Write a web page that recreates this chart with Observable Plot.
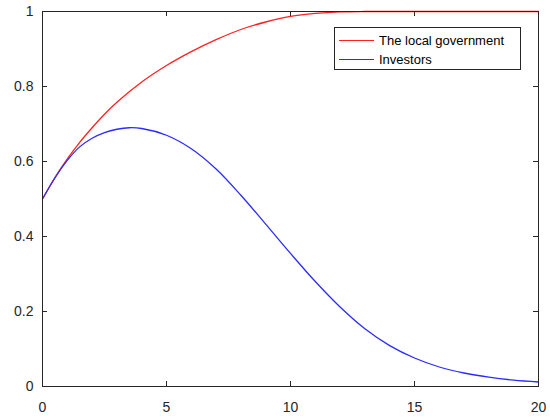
<!DOCTYPE html>
<html>
<head>
<meta charset="utf-8">
<script src="https://cdn.jsdelivr.net/npm/d3@7"></script>
<script src="https://cdn.jsdelivr.net/npm/@observablehq/plot@0.6"></script>
<style>
  body { margin: 0; background: #fff; }
  #wrap { position: relative; width: 550px; height: 419px; }
  #legend {
    position: absolute; left: 334px; top: 27px; width: 187px; height: 43px;
    border: 1px solid #262626; background: #fff; box-sizing: border-box;
    font-family: "Liberation Sans", Arial, sans-serif; font-size: 13px; color: #000;
  }
  .item { position: absolute; left: 4px; height: 16px; display: flex; align-items: center; }
  .swatch { width: 35px; height: 0; border-top: 1.3px solid; margin-right: 5px; }
</style>
</head>
<body>
<div id="wrap">
  <div id="chart"></div>
  <div id="legend"></div>
</div>
<script>
const seriesNames = ["The local government", "Investors"];
const seriesColors = ["#ff2020", "#2b2bff"];

const tGov = [0, 0.5, 1, 1.5, 2, 2.5, 3, 4, 5, 6, 7, 8, 9, 10, 11, 12, 13, 14, 15, 16, 17, 18, 19, 20];
const govValues = [0.5, 0.557, 0.607, 0.651, 0.69, 0.726, 0.758, 0.812, 0.856, 0.893, 0.925, 0.952, 0.972, 0.987, 0.995, 0.999, 1, 1, 1, 1, 1, 1, 1, 1];

const tInv = [0, 0.5, 1, 1.5, 2, 2.5, 3, 3.5, 4, 5, 6, 7, 8, 9, 10, 11, 12, 13, 14, 15, 16, 17, 18, 19, 20];
const invValues = [0.5, 0.556, 0.603, 0.639, 0.662, 0.677, 0.686, 0.69, 0.688, 0.67, 0.634, 0.58, 0.51, 0.433, 0.355, 0.28, 0.212, 0.154, 0.109, 0.076, 0.052, 0.036, 0.025, 0.017, 0.012];

const xTicks = [0, 5, 10, 15, 20];
const yTicks = [0, 0.2, 0.4, 0.6, 0.8, 1];

const gov = tGov.map((t, i) => ({t, v: govValues[i]}));
const inv = tInv.map((t, i) => ({t, v: invValues[i]}));

const W = 550, H = 419, ML = 42, MR = 12, MT = 11, MB = 33;
const innerW = W - ML - MR, innerH = H - MT - MB;
const tickLen = 5;
const tickColor = "#262626";

const chart = Plot.plot({
  width: W,
  height: H,
  marginLeft: ML,
  marginRight: MR,
  marginTop: MT,
  marginBottom: MB,
  style: {fontFamily: "'Liberation Sans', Arial, sans-serif", fontSize: "14px", color: tickColor, background: "#fff"},
  x: {domain: [0, 20]},
  y: {domain: [0, 1]},
  marks: [
    // tick labels
    Plot.axisX({ticks: xTicks, tickFormat: d => String(d), label: null, tickSize: 0, tickPadding: 16, fontSize: 14, color: tickColor}),
    Plot.axisY({ticks: yTicks, tickFormat: d => String(d), label: null, tickSize: 0, tickPadding: 9, fontSize: 14, color: tickColor}),
    // inward tick marks on all four sides
    Plot.ruleX(xTicks, {x: d => d, insetTop: innerH - tickLen, stroke: tickColor}),
    Plot.ruleX(xTicks, {x: d => d, insetBottom: innerH - tickLen, stroke: tickColor}),
    Plot.ruleY(yTicks, {y: d => d, insetRight: innerW - tickLen, stroke: tickColor}),
    Plot.ruleY(yTicks, {y: d => d, insetLeft: innerW - tickLen, stroke: tickColor}),
    Plot.line(gov, {x: "t", y: "v", stroke: seriesColors[0], strokeWidth: 1.3, curve: "catmull-rom"}),
    Plot.line(inv, {x: "t", y: "v", stroke: seriesColors[1], strokeWidth: 1.3, curve: "catmull-rom"}),
    Plot.frame({stroke: tickColor, strokeWidth: 1})
  ]
});
document.getElementById("chart").appendChild(chart);

const legend = document.getElementById("legend");
seriesNames.forEach((name, i) => {
  const item = document.createElement("div");
  item.className = "item";
  item.style.top = (4 + i * 19) + "px";
  const sw = document.createElement("span");
  sw.className = "swatch";
  sw.style.borderColor = seriesColors[i];
  const label = document.createElement("span");
  label.textContent = name;
  item.appendChild(sw);
  item.appendChild(label);
  legend.appendChild(item);
});
</script>
</body>
</html>
